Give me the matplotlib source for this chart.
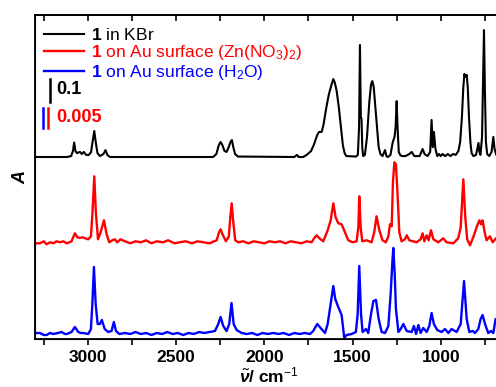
import matplotlib
matplotlib.use("Agg")
import matplotlib.pyplot as plt
from matplotlib.ticker import MultipleLocator

plt.rcParams['font.family'] = ['Liberation Sans', 'DejaVu Sans']
plt.rcParams['mathtext.fontset'] = 'custom'
plt.rcParams['mathtext.rm'] = 'Liberation Sans'
plt.rcParams['mathtext.it'] = 'Liberation Sans:italic:bold'
plt.rcParams['mathtext.bf'] = 'Liberation Sans:bold'

# 1 in KBr (wavenumber / cm-1, absorbance in mA)
kbr_wn = [3300, 3120, 3095, 3085, 3078, 3071, 3062, 3045, 3035, 3023, 3010, 2995,
          2982, 2974, 2964, 2955, 2946, 2932, 2912, 2900, 2890, 2875, 2290, 2272,
          2258, 2248, 2238, 2226, 2214, 2202, 2192, 2184, 2176, 2166, 2150, 1830,
          1815, 1805, 1780, 1760, 1735, 1720, 1700, 1690, 1675, 1665, 1650, 1635,
          1620, 1609, 1600, 1590, 1578, 1565, 1555, 1545, 1535, 1480, 1470, 1463,
          1458, 1453, 1449, 1445, 1440, 1430, 1418, 1405, 1395, 1388, 1380, 1370,
          1362, 1352, 1342, 1330, 1316, 1308, 1300, 1285, 1272, 1262, 1256, 1250,
          1245, 1238, 1230, 1220, 1200, 1178, 1165, 1150, 1120, 1103, 1092, 1075,
          1060, 1052, 1045, 1039, 1030, 1020, 1010, 1000, 990, 975, 960, 945,
          930, 915, 900, 890, 880, 872, 866, 860, 853, 847, 840, 832,
          825, 815, 800, 791, 786, 781, 775, 766, 760, 755, 750, 744,
          737, 725, 712, 702, 695, 685, 650]
kbr_mA = [0, 0, 4, 26, 63, 26, 17, 22, 13, 22, 9, 9,
          22, 65, 113, 61, 17, 4, 13, 30, 9, 0, 0, 13,
          52, 65, 52, 26, 22, 43, 65, 74, 43, 13, 2, 0,
          9, 0, 0, 9, 26, 52, 96, 109, 109, 139, 209, 270,
          313, 339, 322, 287, 217, 122, 52, 17, 4, 2, 9, 130,
          487, 174, 165, 43, 4, 9, 87, 239, 317, 330, 304, 209,
          130, 43, 13, 4, 30, 4, 0, 9, 65, 87, 130, 243,
          130, 22, 9, 4, 4, 13, 22, 4, 4, 35, 13, 4,
          22, 161, 43, 109, 35, 4, 13, 4, 13, 4, 13, 4,
          13, 9, 26, 65, 174, 304, 361, 348, 357, 304, 174, 65,
          17, 4, 9, 43, 61, 22, 9, 87, 348, 552, 304, 65,
          13, 4, 22, 87, 35, 9, 4]

# 1 on Au surface (Zn(NO3)2)
zn_wn = [3310, 3290, 3272, 3250, 3234, 3215, 3196, 3178, 3159, 3140, 3121, 3105,
         3093, 3074, 3060, 3045, 3030, 3017, 2998, 2983, 2974, 2964, 2955, 2943,
         2928, 2909, 2894, 2879, 2862, 2847, 2834, 2815, 2790, 2760, 2730, 2700,
         2670, 2640, 2610, 2575, 2545, 2510, 2480, 2445, 2410, 2380, 2345, 2310,
         2285, 2270, 2257, 2248, 2237, 2218, 2201, 2193, 2185, 2176, 2165, 2148,
         2120, 2090, 2060, 2030, 2000, 1970, 1940, 1910, 1880, 1850, 1820, 1790,
         1760, 1732, 1718, 1704, 1688, 1666, 1641, 1624, 1609, 1596, 1581, 1562,
         1543, 1524, 1500, 1477, 1467, 1462, 1454, 1445, 1420, 1392, 1377, 1364,
         1348, 1330, 1311, 1297, 1288, 1278, 1271, 1263, 1254, 1244, 1235, 1222,
         1203, 1193, 1178, 1137, 1114, 1103, 1093, 1080, 1069, 1055, 1042, 1014,
         986, 967, 929, 901, 887, 872, 861, 850, 834, 816, 797, 781,
         772, 763, 751, 740, 721, 706, 687, 650]
zn_mA = [0, -0.25, -0.25, 0.25, -0.5, 0, -0.25, 0.25, 0, 0.25, -0.25, 0,
         0.25, 2.25, 1.25, 1.1, 1.25, 1, 0.75, 1.5, 7.5, 16.5, 7.5, 0.75,
         2.5, 5.5, 2, 0, 0.5, 0.75, 0, 0.75, 0.25, -0.25, 0.25, 0,
         0.5, -0.25, 0.25, 0, 0.5, -0.25, 0, 0.25, -0.25, 0.25, 0, -0.25,
         0.25, 0.5, 2.5, 3.25, 2, 0.25, 1.5, 6.25, 9.75, 5, 0.5, 0,
         0.25, -0.25, 0.25, 0, -0.25, 0.25, 0, 0.25, -0.25, 0.25, 0, -0.25,
         0.25, 0, 1, 1.75, 1, 0.25, 3, 5.5, 9.75, 6.25, 4.75, 4.5,
         2.5, 0.5, 0, 0.25, 3.75, 11.5, 3.75, 0.25, 0.5, 0, 2.5, 6.5,
         3, 0.5, 0, 1.5, 4.5, 4, 15, 20, 19.5, 11.25, 2.5, 0.25,
         0.75, 1.75, 0.5, 0, 0.75, 2.25, 0.25, 1.75, 0.5, 3, 0.75, 0,
         1, 0, -0.25, 1, 3.75, 15.75, 6.25, 0.75, -0.75, 1.25, 3.75, 5.5,
         4.5, 5.5, 2.5, 0.5, 1.5, 0, 1, 0.5]

# 1 on Au surface (H2O)
h2o_wn = [3310, 3290, 3272, 3250, 3234, 3215, 3196, 3170, 3149, 3130, 3121, 3105,
          3093, 3074, 3055, 3040, 3026, 2998, 2983, 2975, 2966, 2956, 2945, 2932,
          2921, 2905, 2885, 2866, 2853, 2841, 2822, 2790, 2760, 2730, 2700, 2670,
          2640, 2610, 2580, 2550, 2520, 2490, 2460, 2430, 2400, 2370, 2340, 2310,
          2280, 2261, 2248, 2233, 2214, 2199, 2186, 2174, 2157, 2129, 2100, 2070,
          2040, 2010, 1980, 1950, 1920, 1890, 1860, 1830, 1800, 1770, 1741, 1723,
          1700, 1681, 1656, 1641, 1624, 1609, 1598, 1581, 1562, 1553, 1547, 1534,
          1505, 1481, 1471, 1462, 1452, 1443, 1424, 1411, 1397, 1382, 1367, 1352,
          1335, 1316, 1297, 1284, 1275, 1269, 1261, 1254, 1240, 1227, 1212, 1193,
          1165, 1152, 1140, 1127, 1114, 1099, 1080, 1065, 1052, 1039, 1020, 995,
          976, 957, 939, 910, 887, 868, 853, 838, 819, 806, 787, 774,
          763, 749, 731, 715, 702, 689, 650]
h2o_mA = [0, 0.25, 0.25, -0.25, -0.25, 0.25, 0, 0.25, 0.5, 0, 0, 0.25,
          0.5, 1.75, 0.5, 0.25, 0.25, 0, 1.25, 7.5, 16.75, 7.5, 2.5, 2.5,
          3.5, 1.25, 0.5, 0.75, 3, 0.75, 0, 0.25, 0, 0.5, 0, 0.25,
          -0.25, 0.25, 0, 0.5, 0, 0.25, -0.25, 0.25, 0, 0.5, 0.25, 0.5,
          0.75, 2.5, 4.25, 2, 0.75, 2.5, 7.75, 2.5, 1, 0.25, 0, 0.25,
          -0.25, 0.25, 0, 0.25, 0, 0.25, -0.25, 0.25, 0, 0.25, 0, 0.75,
          2.5, 1.5, 0.25, 2.5, 7.5, 12, 8.75, 6.75, 4.75, 1.25, -1, -0.25,
          0, 0.5, 5, 17, 5, 0.5, 1.25, 0.25, 4.5, 8.25, 8.5, 3.75,
          0.5, 0.25, 2, 10, 17.5, 21.5, 15, 6.25, 0.5, 1.25, 2.5, 0.75,
          0.5, 2, 0, 2.25, 0.25, 1.5, 0.5, 2, 5.25, 2.5, 1, 0.5,
          1.25, 0.25, 1.25, 0.5, 2.5, 13.25, 3.75, 0.5, 0.75, 0.25, 1.25, 3.75,
          4.75, 2.5, 0.25, 0.75, 0.25, 3.75, 2.5]

labels = [r'$\mathbf{1}$ in KBr',
          r'$\mathbf{1}$ on Au surface (Zn(NO$_3$)$_2$)',
          r'$\mathbf{1}$ on Au surface (H$_2$O)']
bar_kbr_mA = 100     # scale bar 0.1
bar_surf_mA = 5      # scale bar 0.005

# stacking (display units) and gains
gain_kbr = 0.23
gain_surf = 4.0
off_kbr, off_zn, off_h2o = 182, 96.7, 5

fig = plt.figure(figsize=(4.96, 3.87), dpi=100)
ax = fig.add_axes([35 / 496, 48 / 387, 467.5 / 496, 324 / 387])

ax.plot(kbr_wn, [off_kbr + v * gain_kbr for v in kbr_mA], color='black', lw=1.5, label=labels[0])
ax.plot(zn_wn, [off_zn + v * gain_surf for v in zn_mA], color='#ff0000', lw=1.7, label=labels[1])
ax.plot(h2o_wn, [off_h2o + v * gain_surf for v in h2o_mA], color='#0000ff', lw=1.7, label=labels[2])

# scale bars
ax.plot([3215, 3215], [237, 237 + bar_kbr_mA * gain_kbr], color='black', lw=1.8)
ax.plot([3224, 3224], [211, 211 + bar_surf_mA * gain_surf], color='#ff0000', lw=1.8)
ax.plot([3257, 3257], [211, 211 + bar_surf_mA * gain_surf], color='#0000ff', lw=1.8)
ax.text(3180, 249, '0.1', color='black', fontsize=13, fontweight='bold', va='center', ha='left')
ax.text(3180, 221, '0.005', color='#ff0000', fontsize=13, fontweight='bold', va='center', ha='left')

leg = ax.legend(loc='upper left', bbox_to_anchor=(0.0, 0.99), frameon=False, fontsize=12.5,
                handlelength=2.35, handletextpad=0.35, labelspacing=0.02, borderpad=0,
                labelcolor='linecolor')

ax.set_xlim(3300, 650)
ax.set_ylim(0, 324)
ax.xaxis.set_major_locator(MultipleLocator(500))
ax.xaxis.set_minor_locator(MultipleLocator(250))
ax.tick_params(axis='x', which='both', bottom=True, top=False, direction='out',
               length=4, width=1.2, labelsize=12.5, pad=4)
for t in ax.get_xticklabels():
    t.set_fontweight('bold')
ax.set_yticks([])
ax.spines['right'].set_visible(False)
for s in ['left', 'bottom', 'top']:
    ax.spines[s].set_linewidth(1.3)

# top ticks point inward
ax2 = ax.twiny()
ax2.set_xlim(ax.get_xlim())
ax2.xaxis.set_major_locator(MultipleLocator(250))
ax2.tick_params(axis='x', direction='in', length=4, width=1.2, labeltop=False)
ax2.spines['right'].set_visible(False)
ax2.spines['top'].set_linewidth(1.3)

ax.set_xlabel(r'$\tilde{\nu}$/ cm$^{-1}$', fontsize=12.5, fontweight='bold', labelpad=0)
ax.set_ylabel('A', fontsize=13, fontweight='bold', fontstyle='italic', labelpad=4)

fig.savefig('out.png', dpi=100)
